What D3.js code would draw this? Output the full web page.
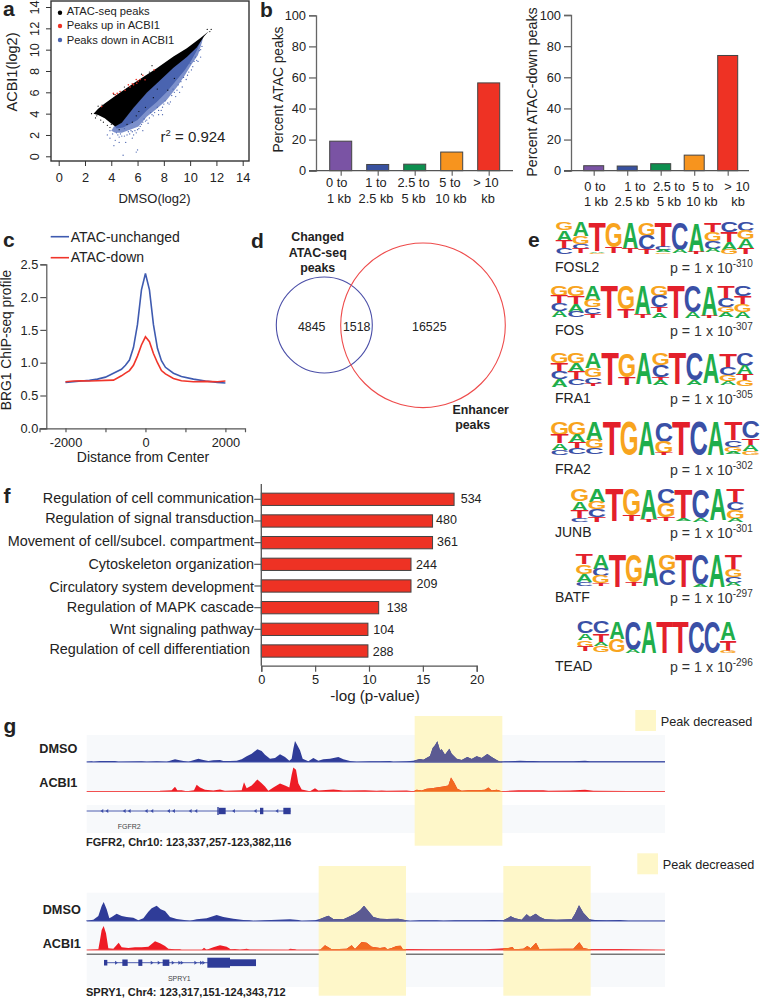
<!DOCTYPE html>
<html><head><meta charset="utf-8">
<script src="https://cdn.jsdelivr.net/npm/d3@7"></script>
<style>
html,body{margin:0;padding:0;background:#fff}
svg{display:block}
text{font-family:"Liberation Sans",Arial,sans-serif;fill:#222}
</style></head><body>
<svg id="fig" width="760" height="998"></svg>
<script>
// ---------- DATA ----------
// a: scatter envelopes [DMSO, ACBI1] and hand-read stragglers
const cloudBlack=[[2.65,4.0],[3.0,4.45],[3.5,4.95],[4.4,5.75],[5.7,6.85],[7.46,8.26],[8.73,9.36],[9.75,10.14],[10.76,11.08],[11.4,11.7],[11.07,11.25],[10.5,10.2],[9.75,9.3],[8.73,8.3],[7.7,7.1],[6.7,5.95],[5.7,4.55],[4.8,3.15],[4.3,2.8],[3.9,3.16],[3.5,3.57],[3.0,3.88]];
const cloudBlueSoft=[[11.0,11.2],[10.5,10.3],[9.75,9.4],[8.73,8.4],[7.7,7.2],[6.7,6.0],[5.7,4.6],[4.8,3.2],[4.2,2.8],[4.0,2.4],[4.3,2.2],[4.8,2.2],[5.43,2.5],[6.07,2.8],[6.7,3.7],[7.46,4.45],[8.2,5.25],[9.0,6.5],[9.6,7.6],[10.1,8.6],[10.6,9.5],[10.9,10.7]];
const cloudBlueCore=[[10.9,11.1],[10.5,10.3],[9.75,9.4],[8.73,8.4],[7.7,7.2],[6.7,6.0],[5.7,4.6],[4.8,3.2],[4.3,2.8],[4.4,2.6],[4.9,2.7],[5.4,3.0],[6.0,3.4],[6.7,4.3],[7.46,5.1],[8.2,6.0],[9.0,7.2],[9.6,8.1],[10.1,9.0],[10.5,9.9]];
const ptsBlue=[[10.9,10.3],[10.7,9.9],[10.8,9.3],[10.4,9.3],[10.6,8.9],[10.2,8.4],[10.0,8.7],[9.9,7.9],[10.1,8.1],[9.7,7.2],[9.5,7.4],[9.3,7.0],[9.4,6.5],[9.0,6.2],[8.8,6.0],[8.6,5.7],[8.9,5.6],[8.3,5.0],[8.0,4.9],[7.9,4.6],[7.6,4.3],[7.3,4.1],[7.1,3.9],[6.9,3.6],[6.6,3.3],[6.4,3.2],[6.2,2.8],[6.0,2.5],[5.8,2.4],[5.6,2.3],[5.4,2.1],[5.2,2.0],[5.0,1.9],[4.8,1.9],[4.6,1.8],[4.4,2.2],[4.1,2.1],[4.3,1.5],[4.6,1.3],[4.2,1.0],[4.9,0.1],[6.0,0.6],[5.9,0.4],[5.1,1.3],[5.6,1.7],[6.4,2.4],[5.0,2.6],[3.9,1.7],[3.7,2.0],[3.9,2.4],[6.8,3.1],[7.6,3.9],[8.5,5.1],[9.2,6.0],[7.9,3.9],[10.3,8.9],[9.8,7.6],[9.1,6.7],[8.7,6.3],[8.1,5.2],[7.5,4.6],[7.0,4.1],[6.5,3.5],[6.1,2.6],[5.5,2.4],[5.3,2.3],[4.7,2.1],[4.5,2.0],[5.7,2.0],[5.9,2.2],[6.3,3.0],[6.7,3.4],[7.2,3.8],[7.8,4.3],[8.4,4.9],[10.5,9.0],[10.8,10.0]];
const ptsDark=[[7.2,5.5],[6.6,4.6],[5.9,3.8],[8.3,6.2],[5.6,3.2],[6.1,4.2],[7.5,6.3],[8.8,7.3],[5.2,3.0],[4.6,2.5],[3.0,4.7],[2.8,3.6],[2.5,4.0],[3.2,3.4],[3.4,3.2],[3.7,2.9],[3.9,2.7],[4.0,3.0],[11.5,11.7],[11.6,11.9],[11.3,11.9],[2.9,3.8],[3.3,4.8],[6.3,7.7],[6.9,7.9],[5.0,6.5],[4.2,5.8],[7.1,8.5]];
const ptsRed=[[4.16,5.9],[4.3,5.76],[4.45,5.9],[5.05,6.2],[5.43,6.5],[5.7,6.7],[5.94,6.85],[6.2,7.2],[6.4,7.6],[5.9,7.2],[5.3,6.7],[4.67,6.07],[3.27,4.66],[6.57,7.17],[7.26,8.1],[5.6,6.8],[6.05,7.05]];
const scatterLegend=["ATAC-seq peaks","Peaks up in ACBI1","Peaks down in ACBI1"];
const xTicksA=[0,2,4,6,8,10,12,14], yTicksA=[0,2,4,6,8,10,12,14];
// b
const binLabels=[["0 to","1 kb"],["1 to","2.5 kb"],["2.5 to","5 kb"],["5 to","10 kb"],["> 10","kb"]];
const pctAtac=[19,4,4.2,12,56.5];
const pctAtacDown=[3.2,3,4.5,10,74];
const binColors=["#7a53a4","#38519f","#0d8f4f","#f7941e","#ee3224"];
// c
const profDist=[-2000,-1800,-1600,-1400,-1200,-1000,-800,-600,-500,-400,-300,-200,-100,0,100,200,300,400,500,700,900,1200,1500,1800,2000];
const profUnchanged=[0.70,0.71,0.72,0.73,0.75,0.78,0.84,0.90,0.96,1.04,1.23,1.58,2.11,2.36,2.11,1.58,1.22,1.03,0.93,0.84,0.79,0.75,0.72,0.70,0.69];
const profDown=[0.71,0.72,0.725,0.72,0.725,0.73,0.735,0.80,0.84,0.88,0.96,1.10,1.27,1.395,1.32,1.14,1.00,0.88,0.83,0.76,0.725,0.71,0.715,0.71,0.72];
// d
const vennValues=[4845,1518,16525];
// e  motif stacks: letter + relative height, top to bottom
const motifs={
 FOSL2:["G24 A32 T22 C18","A42 G25 C14 T14","T88 A5 G4","G76 T18","A80 T14","G40 C42 T14","T74 C10 A8 G5","C84 A10","A90 T6","T32 G26 C22 A12","C30 T30 A24 G14","C26 G26 A26 T20"],
 FOS:["G30 T22 C24 A20","G30 T25 A24 C18","A44 G22 C20 T12","T100","G72 T26","A88 T10","G32 C34 T16 A16","T100","C80 A18","A92 T6","T36 C28 G16 A16","C32 T28 G22 A18"],
 FRA1:["G30 T28 C22 A22","G30 A25 T24 C18","A46 G28 C20 T6","T98","G72 T25","A95","G36 C36 T12 A14","T95","C82 A15","A92","T45 C22 G18 A12","C38 A26 T18 G18"],
 FRA2:["G40 T25 A20 C15","G40 A22 T18 C18","A55 G25 C18","T100","G100","A100","C60 G34 T6","T100","C100","A100","T55 C20 G15 A8","C50 T20 A18 G12"],
 JUNB:["G36 A28 T22 C12","A38 G22 C22 T16","T95","G78 T18","A90 T8","C42 G42 T12","T90 A6","C85 A12","A92","T40 C22 G26 A10"],
 BATF:["T32 G28 A25 C12","A45 C22 G22 T8","T100","G85 T12","A97","G48 C48","T100","C92 A8","A100","T45 G25 C18 A10"],
 TEAD:["C38 A22 G20 T15","C38 T30 A10 G20","A55 G43","C90 A10","A100","T100","T100","C100","C100","A58 T35 G7"]
};
const motifNames=["FOSL2","FOS","FRA1","FRA2","JUNB","BATF","TEAD"];
const motifExp=["-310","-307","-305","-302","-301","-297","-296"];
const letterColor={A:"#1fae4b",T:"#e3202b",G:"#f8a41e",C:"#3a50a6"};
// f
const goTerms=["Regulation of cell communication","Regulation of signal transduction","Movement of cell/subcel. compartment","Cytoskeleton organization","Circulatory system development","Regulation of MAPK cascade","Wnt signaling pathway","Regulation of cell differentiation"];
const goLogP=[17.9,15.9,15.9,13.9,13.9,10.9,9.9,9.9];
const goCount=[534,480,361,244,209,138,104,288];
// g  tracks: [window position, signal]
const fgfr2Dmso=[[260,1],[275,2],[280,1],[300,3],[320,3],[345,3],[355,1],[425,2],[440,1],[470,2],[500,1],[515,5],[525,8],[535,6],[550,3],[565,1],[580,5],[595,10],[610,6],[625,3],[640,5],[660,6],[670,3],[690,3],[710,4],[725,8],[740,17],[755,25],[772,38],[785,33],[795,22],[810,10],[825,12],[840,23],[855,15],[868,4],[875,10],[880,40],[885,63],[892,50],[900,35],[908,10],[925,2],[940,12],[955,4],[970,8],[990,10],[1015,15],[1030,8],[1050,3],[1070,1],[1110,2],[1140,2],[1170,3],[1180,1],[1220,2],[1240,4],[1260,9],[1270,7],[1290,18],[1298,42],[1305,50],[1312,62],[1320,35],[1325,38],[1335,22],[1348,40],[1355,25],[1370,10],[1385,6],[1402,15],[1415,9],[1430,17],[1445,12],[1462,24],[1475,15],[1490,6],[1500,1],[1515,2],[1545,3],[1560,4],[1580,3],[1600,3],[1620,2],[1660,2],[1720,2],[1755,4],[1770,2],[1840,2],[1980,2],[1995,2]];
const fgfr2Acbi=[[260,0],[478,0],[480,2],[515,4],[525,14],[532,4],[545,4],[560,1],[582,4],[590,20],[600,12],[615,5],[640,3],[660,6],[675,2],[725,4],[732,28],[740,10],[755,18],[772,36],[785,25],[795,15],[805,2],[820,12],[840,24],[855,18],[868,12],[875,50],[880,72],[888,65],[895,25],[905,6],[930,1],[945,10],[955,3],[1000,6],[1030,3],[1095,4],[1130,2],[1145,3],[1160,2],[1220,3],[1240,1],[1250,5],[1265,3],[1280,8],[1295,10],[1310,12],[1330,15],[1345,18],[1353,42],[1362,28],[1372,8],[1385,2],[1405,4],[1435,4],[1455,5],[1465,12],[1475,3],[1490,5],[1505,1],[1555,4],[1580,4],[1630,4],[1645,2],[1710,3],[1755,5],[1780,2],[1995,1]];
const spry1Dmso=[[258,1],[280,4],[295,15],[305,45],[311,57],[320,35],[328,8],[335,12],[350,22],[365,15],[380,12],[400,10],[415,2],[430,8],[445,28],[455,38],[470,46],[482,35],[495,30],[510,12],[530,6],[558,2],[570,1],[590,5],[620,8],[650,18],[670,12],[700,7],[730,3],[748,2],[760,0],[795,2],[870,5],[895,3],[905,0],[945,2],[960,6],[975,12],[985,16],[1000,6],[1030,5],[1045,12],[1065,22],[1080,32],[1092,46],[1105,30],[1120,12],[1140,7],[1160,6],[1195,7],[1215,3],[1230,0],[1260,2],[1310,2],[1330,1],[1365,2],[1410,2],[1440,2],[1480,3],[1510,2],[1525,10],[1532,14],[1545,8],[1565,4],[1580,20],[1590,12],[1607,22],[1620,12],[1635,5],[1670,4],[1715,5],[1725,22],[1737,47],[1750,25],[1768,5],[1785,3],[1820,2],[1860,3],[1885,1],[1995,1]];
const spry1Acbi=[[258,0],[295,2],[300,30],[305,60],[311,72],[318,50],[325,5],[340,4],[350,15],[356,22],[365,8],[385,6],[405,8],[425,8],[445,10],[465,26],[480,20],[495,12],[505,4],[525,2],[540,2],[545,0],[605,0],[612,7],[620,1],[640,8],[660,14],[680,10],[692,2],[705,3],[720,1],[740,4],[750,1],[865,0],[870,4],[885,2],[890,0],[960,0],[975,14],[985,8],[995,2],[1040,4],[1055,14],[1065,3],[1085,24],[1100,22],[1115,10],[1140,6],[1155,8],[1162,2],[1175,6],[1190,12],[1202,13],[1208,3],[1235,3],[1285,2],[1390,2],[1458,2],[1525,6],[1538,9],[1542,2],[1570,4],[1582,12],[1592,5],[1608,22],[1618,3],[1695,4],[1720,4],[1738,23],[1750,6],[1765,3],[1860,3],[1995,0]];
const fgfr2Peak=[[1244,1507]];
const spry1Peak=[[956,1218],[1510,1772]];
const fgfr2Exons=[[652,656,1],[656,677,0.8],[780,790,0.8],[850,872,0.8]];
const fgfr2Marks=[305,320,372,387,438,455,505,520,570,587,700,765,830];
const spry1Exons=[[312,322,0.7],[367,383,0.8],[415,427,0.8],[488,508,0.8],[622,690,1.25],[690,768,0.85]];
const spry1Marks=[350,457,478,520,540,547,588,605,612];

// ---------- HELPERS ----------
const svg=d3.select("#fig");
const ink="#222", axisGray="#555", peakYellow="#fef7c9";
function T(x,y,s,o={}){
  const t=svg.append("text").attr("x",x).attr("y",y).text(s)
    .attr("font-size",o.size||12.5).attr("text-anchor",o.anchor||"start");
  if(o.bold)t.attr("font-weight","bold");
  if(o.fill)t.style("fill",o.fill);
  if(o.rot!==undefined)t.attr("transform",`rotate(${o.rot},${x},${y})`);
  return t;
}
function styleAxis(g,color=axisGray,w=1.3,fs=12.8){
  g.selectAll("path,line").attr("stroke",color).attr("stroke-width",w);
  g.selectAll("text").attr("font-size",fs).attr("font-family",'"Liberation Sans",Arial,sans-serif').style("fill",ink);
}
[["a",3,16],["b",260,17],["c",3,247],["d",251,248],["e",528,247],["f",3.5,503],["g",3.5,733]]
  .forEach(d=>T(d[1],d[2],d[0],{size:21,bold:true}));

// ---------- PANEL a ----------
(function(){
  const x=d3.scaleLinear([0,14],[58.7,242.7]), y=d3.scaleLinear([0,14],[156.3,7]);
  const line=d3.line(d=>x(d[0]),d=>y(d[1])).curve(d3.curveLinearClosed);
  const g=svg.append("g");
  g.append("path").attr("d",line(cloudBlueSoft)).attr("fill","#7c90cb");
  g.append("path").attr("d",line(cloudBlueCore)).attr("fill","#4a64b0");
  g.selectAll(".b").data(ptsBlue).join("circle").attr("cx",d=>x(d[0])).attr("cy",d=>y(d[1])).attr("r",.65).attr("fill","#4a64b0");
  g.append("path").attr("d",line(cloudBlack)).attr("fill","#000");
  g.selectAll(".r").data(ptsRed).join("circle").attr("cx",d=>x(d[0])).attr("cy",d=>y(d[1])).attr("r",.8).attr("fill","#ee3124");
  svg.append("g").selectAll("circle").data(ptsDark).join("circle").attr("cx",d=>x(d[0])).attr("cy",d=>y(d[1])).attr("r",.6).attr("fill","#000");
  svg.append("rect").attr("x",51).attr("y",1).attr("width",198).attr("height",160).attr("fill","none").attr("stroke","#333").attr("stroke-width",1.4);
  const ax=svg.append("g").attr("transform","translate(0,161)").call(d3.axisBottom(x).tickValues(xTicksA).tickSize(5).tickPadding(7));
  ax.select(".domain").remove(); styleAxis(ax,"#333",1);
  const ay=svg.append("g").attr("transform","translate(51,0)").call(d3.axisLeft(y).tickValues(yTicksA).tickSize(5));
  ay.select(".domain").remove(); styleAxis(ay,"#333",1);
  ay.selectAll("text").attr("transform","rotate(-90)").attr("x",0).attr("y",-12).attr("dy",0).attr("text-anchor","middle");
  T(154.5,203,"DMSO(log2)",{size:13,anchor:"middle"});
  T(17,72,"ACBI1(log2)",{size:14.5,anchor:"middle",rot:-90});
  const cols=["#000","#ee3124","#4a64b0"], ly=[12.7,26,40], ty=[14.7,29,43.7];
  scatterLegend.forEach((s,i)=>{
    svg.append("circle").attr("cx",60).attr("cy",ly[i]).attr("r",2.2).attr("fill",cols[i]);
    T(66.7,ty[i],s,{size:11.2});
  });
  const r=T(160.5,141.7,"r",{size:15});
  r.append("tspan").attr("dy",-6).attr("font-size",9.5).text("2");
  r.append("tspan").attr("dy",6).text(" = 0.924");
})();

// ---------- PANEL b ----------
function barPanel(vals,o){
  const x=d3.scalePoint(d3.range(vals.length),o.xr), y=d3.scaleLinear([0,100],[170.7,o.top]);
  svg.append("g").selectAll("rect").data(vals).join("rect")
    .attr("x",(d,i)=>x(i)-o.bw/2).attr("width",o.bw)
    .attr("y",d=>y(d)).attr("height",d=>y(0)-y(d))
    .attr("fill",(d,i)=>binColors[i]).attr("stroke","#444").attr("stroke-width",1);
  const ay=svg.append("g").attr("transform",`translate(${o.ax},0)`).call(d3.axisLeft(y).ticks(5).tickSize(7).tickPadding(3));
  styleAxis(ay,"#666",1.3);
  const ax=svg.append("g").attr("transform","translate(0,170.7)").call(d3.axisBottom(x).tickSize(5).tickFormat(""));
  ax.select(".domain").remove(); styleAxis(ax,"#666",1.2);
  svg.append("line").attr("x1",o.ax-7).attr("x2",o.xEnd).attr("y1",170.7).attr("y2",170.7).attr("stroke","#555").attr("stroke-width",1.3);
  binLabels.forEach((pair,i)=>pair.forEach((s,j)=>{
    T(o.lx[i][j],o.ly[j],s,{size:12.8,anchor:"middle"});
  }));
  T(o.tx,o.ty,o.title,{size:o.ts,anchor:"middle",rot:-90});
}
barPanel(pctAtac,{xr:[340.7,488.7],bw:22,top:15.3,ax:316,xEnd:513,title:"Percent ATAC peaks",tx:283,ty:89.5,ts:13.8,
  lx:[[336.7,339],[376,376],[413.5,413.5],[450,451],[486,488]],ly:[187,203]});
barPanel(pctAtacDown,{xr:[593.7,727.7],bw:20,top:15,ax:571,xEnd:749,title:"Percent ATAC-down peaks",tx:537,ty:92,ts:14.3,
  lx:[[595,596],[635,632],[669,669],[703,702],[737,738]],ly:[191,205.5]});

// ---------- PANEL c ----------
(function(){
  const x=d3.scaleLinear([-2650,2490],[39.5,245]), y=d3.scaleLinear([0,2.5],[428.3,264.3]);
  const ax=svg.append("g").attr("transform","translate(0,428.3)")
    .call(d3.axisBottom(x).tickValues([-2000,-1000,0,1000,2000]).tickSize(4).tickPadding(6).tickFormat(d=>Math.abs(d)===1000?"":d));
  styleAxis(ax,"#555",1.2);
  const ay=svg.append("g").attr("transform","translate(46.3,0)").call(d3.axisLeft(y).tickValues([0,.5,1,1.5,2,2.5]).tickFormat(d3.format(".1f")).tickSize(6).tickPadding(2));
  styleAxis(ay,"#555",1.2);
  const mk=arr=>d3.line((d,i)=>x(profDist[i]),d=>y(d))(arr);
  svg.append("path").attr("d",mk(profUnchanged)).attr("fill","none").attr("stroke","#3f5bb0").attr("stroke-width",1.6);
  svg.append("path").attr("d",mk(profDown)).attr("fill","none").attr("stroke","#f0352a").attr("stroke-width",1.6);
  svg.append("line").attr("x1",50.7).attr("x2",69).attr("y1",236.7).attr("y2",236.7).attr("stroke","#3f5bb0").attr("stroke-width",1.6);
  svg.append("line").attr("x1",50.7).attr("x2",69).attr("y1",257.7).attr("y2",257.7).attr("stroke","#f0352a").attr("stroke-width",1.6);
  T(70.7,241.7,"ATAC-unchanged",{size:14});
  T(70.7,261.7,"ATAC-down",{size:14});
  T(143,462,"Distance from Center",{size:14,anchor:"middle"});
  T(11,340,"BRG1 ChIP-seq profile",{size:13.8,anchor:"middle",rot:-90});
})();

// ---------- PANEL d ----------
(function(){
  svg.append("circle").attr("cx",324.3).attr("cy",325).attr("r",48).attr("fill","none").attr("stroke","#4b4fa8").attr("stroke-width",1.1);
  svg.append("circle").attr("cx",423).attr("cy",325.3).attr("r",82.3).attr("fill","none").attr("stroke","#ee4b4b").attr("stroke-width",1.1);
  [311.7,356.7,429.3].forEach((px,i)=>T(px,331,vennValues[i],{size:12.4,anchor:"middle"}));
  [["Changed",240.7],["ATAC-seq",256.7],["peaks",271.7]].forEach(d=>T(317.7,d[1],d[0],{size:12.4,bold:true,anchor:"middle"}));
  T(480.7,414,"Enhancer",{size:12.4,bold:true,anchor:"middle"});
  T(472.7,429.3,"peaks",{size:12.4,bold:true,anchor:"middle"});
})();

// ---------- PANEL e ----------
(function(){
  const boxes={FOSL2:[556,754,222.7,255],FOS:[551,751,286,318.3],FRA1:[551,753.3,353.3,386],FRA2:[551,759.3,421.7,455],JUNB:[571,744,489,522.7],BATF:[576,741.7,554,586.7],TEAD:[577.3,736,621.7,652.7]};
  const nameY=[271.7,335,402.7,474,537,601.7,670.7];
  const inkW={A:.72,T:.57,G:.70,C:.67}, capH=.70;
  motifNames.forEach((nm,mi)=>{
    const b=boxes[nm], stacks=motifs[nm];
    const x=d3.scaleBand(d3.range(stacks.length),[b[0],b[1]]), y=d3.scaleLinear([0,100],[b[2],b[3]]);
    const g=svg.append("g");
    stacks.forEach((st,pi)=>{
      let cum=0;
      st.split(" ").forEach(tok=>{
        const L=tok[0], h=+tok.slice(1);
        const sx=x.bandwidth()*.98/(inkW[L]*100), sy=(y(h)-y(0))/(capH*100);
        cum+=h;
        g.append("text").text(L).attr("font-size",100).attr("font-weight","bold").attr("text-anchor","middle")
          .attr("transform",`translate(${x(pi)+x.bandwidth()/2},${y(cum)}) scale(${sx},${sy})`)
          .style("fill",letterColor[L]);
      });
    });
    T(555,nameY[mi],nm,{size:14});
    const p=T(670,nameY[mi]+1,"p = 1 x 10",{size:14.2,fill:"#333"});
    p.append("tspan").attr("dy",-6).attr("font-size",10).text(motifExp[mi]);
  });
})();

// ---------- PANEL f ----------
(function(){
  const x=d3.scaleLinear([0,20],[261.3,476.7]);
  const y=d3.scalePoint(goTerms,[499.3,651]);
  const bh=12.3;
  svg.append("g").selectAll("rect").data(goLogP).join("rect")
    .attr("x",x(0)).attr("y",(d,i)=>y(goTerms[i])-bh/2).attr("height",bh).attr("width",d=>x(d)-x(0))
    .attr("fill","#ee3224").attr("stroke","#444").attr("stroke-width",1);
  const ax=svg.append("g").attr("transform","translate(0,665.7)").call(d3.axisBottom(x).ticks(4).tickSize(6).tickPadding(3));
  styleAxis(ax,"#555",1.2);
  svg.append("line").attr("x1",x(0)).attr("x2",x(0)).attr("y1",484).attr("y2",665.7).attr("stroke","#555").attr("stroke-width",1.3);
  const lblY=[503.3,523.3,546,569.3,591.7,612,634,654], lblEnd=[254,254,254,254,254,254,254,250];
  const cntX=[460.7,436,437,416,416.5,386.7,373.3,372.7], cntY=[503.3,524.3,545.7,569,588.3,611.7,634.3,655.7];
  goTerms.forEach((t,i)=>{
    T(lblEnd[i],lblY[i],t,{size:14.4,anchor:"end"});
    T(cntX[i],cntY[i],goCount[i],{size:12.5});
    if(i<7)svg.append("line").attr("x1",254.3).attr("x2",261.3).attr("y1",y(t)).attr("y2",y(t)).attr("stroke","#555").attr("stroke-width",1.2);
  });
  T(375,701,"-log (p-value)",{size:15.2,anchor:"middle"});
})();

// ---------- PANEL g ----------
const xTrack=d3.scaleLinear([260,1995],[86.67,665]);
function trackPanel(o){
  const gid=o.id;
  o.bands.forEach(b=>svg.append("rect").attr("x",xTrack(260)).attr("width",xTrack(1995)-xTrack(260)).attr("y",b[0]).attr("height",b[1]-b[0]).attr("fill","#f7f9fb"));
  if(o.rule)svg.append("line").attr("x1",xTrack(260)).attr("x2",xTrack(1995)).attr("y1",o.rule).attr("y2",o.rule).attr("stroke","#777").attr("stroke-width",1.4);
  svg.append("g").selectAll("rect").data(o.peaks).join("rect")
    .attr("x",d=>xTrack(d[0])).attr("width",d=>xTrack(d[1])-xTrack(d[0])).attr("y",o.yTop).attr("height",o.yBot-o.yTop).attr("fill",peakYellow);
  const clip=svg.append("clipPath").attr("id",gid);
  clip.selectAll("rect").data(o.peaks).join("rect").attr("x",d=>xTrack(d[0])).attr("width",d=>xTrack(d[1])-xTrack(d[0])).attr("y",o.yTop).attr("height",o.yBot-o.yTop);
  const draw=(data,base,cFill,cLine,hFill,hLine)=>{
    const y=d3.scaleLinear([0,100],[base,base-33.33]);
    const area=d3.area(d=>xTrack(d[0]),y(0),d=>y(d[1]))(data);
    const lw=1.1;
    const bl=(g,c)=>g.append("line").attr("x1",xTrack(260)).attr("x2",xTrack(1995)).attr("y1",base).attr("y2",base).attr("stroke",c).attr("stroke-width",lw);
    const g1=svg.append("g");
    g1.append("path").attr("d",area).attr("fill",cFill); bl(g1,cLine);
    const g2=svg.append("g").attr("clip-path",`url(#${gid})`);
    g2.append("path").attr("d",area).attr("fill",hFill); bl(g2,hLine);
  };
  draw(o.dmso,o.b1,"#2f3c98","#3e4fa8","#5b5a92","#5d5e9c");
  draw(o.acbi,o.b2,"#ee1c25","#f25050","#f26a21","#f28a40");
  // gene model
  const gy=o.geneY;
  svg.append("line").attr("x1",xTrack(o.geneSpan[0])).attr("x2",xTrack(o.geneSpan[1])).attr("y1",gy).attr("y2",gy).attr("stroke","#3b4ca6").attr("stroke-width",.9);
  svg.append("g").selectAll("rect").data(o.exons).join("rect")
    .attr("x",d=>xTrack(d[0])).attr("width",d=>xTrack(d[1])-xTrack(d[0]))
    .attr("y",d=>gy-d[2]*4).attr("height",d=>d[2]*8).attr("fill","#2f3c98");
  svg.append("g").selectAll("path").data(o.marks).join("path")
    .attr("d",d=>{const a=xTrack(d),s=o.dir;return `M${a+s*1.6},${gy-2}L${a-s*1.2},${gy}L${a+s*1.6},${gy+2}Z`;}).attr("fill","#3b4ca6");
  T(o.lblX,o.l1,"DMSO",{size:12.7,bold:true});
  T(o.lblX,o.l2,"ACBI1",{size:12.7,bold:true});
  T(o.geneLblX,o.geneLblY,o.gene,{size:7,anchor:"middle",fill:"#444"});
  T(86,o.capY,o.cap,{size:11,bold:true});
  svg.append("rect").attr("x",o.sw[0]).attr("y",o.sw[1]).attr("width",20.7).attr("height",21).attr("fill",peakYellow);
  T(o.sw[0]+25.4,o.sw[1]+16,"Peak decreased",{size:12.7});
}
trackPanel({id:"clipF",bands:[[735,762],[762,791.5],[805,833]],peaks:fgfr2Peak,yTop:716,yBot:845.7,dmso:fgfr2Dmso,acbi:fgfr2Acbi,b1:762,b2:791.5,
  geneY:811,geneSpan:[260,872],exons:fgfr2Exons,marks:fgfr2Marks,dir:1,lblX:39.3,l1:753.3,l2:787.3,gene:"FGFR2",geneLblX:129.3,geneLblY:829,
  cap:"FGFR2, Chr10: 123,337,257-123,382,116",capY:845.7,sw:[635.3,710]});
trackPanel({id:"clipS",bands:[[892.7,921],[921,950],[954,987]],rule:954.3,peaks:spry1Peak,yTop:866,yBot:995.7,dmso:spry1Dmso,acbi:spry1Acbi,b1:921,b2:950,
  geneY:962.7,geneSpan:[312,768],exons:spry1Exons,marks:spry1Marks,dir:-1,lblX:42.7,l1:914,l2:948.3,gene:"SPRY1",geneLblX:179.3,geneLblY:980.7,
  cap:"SPRY1, Chr4: 123,317,151-124,343,712",capY:995.7,sw:[637.3,853.3]});
</script>
</body></html>
